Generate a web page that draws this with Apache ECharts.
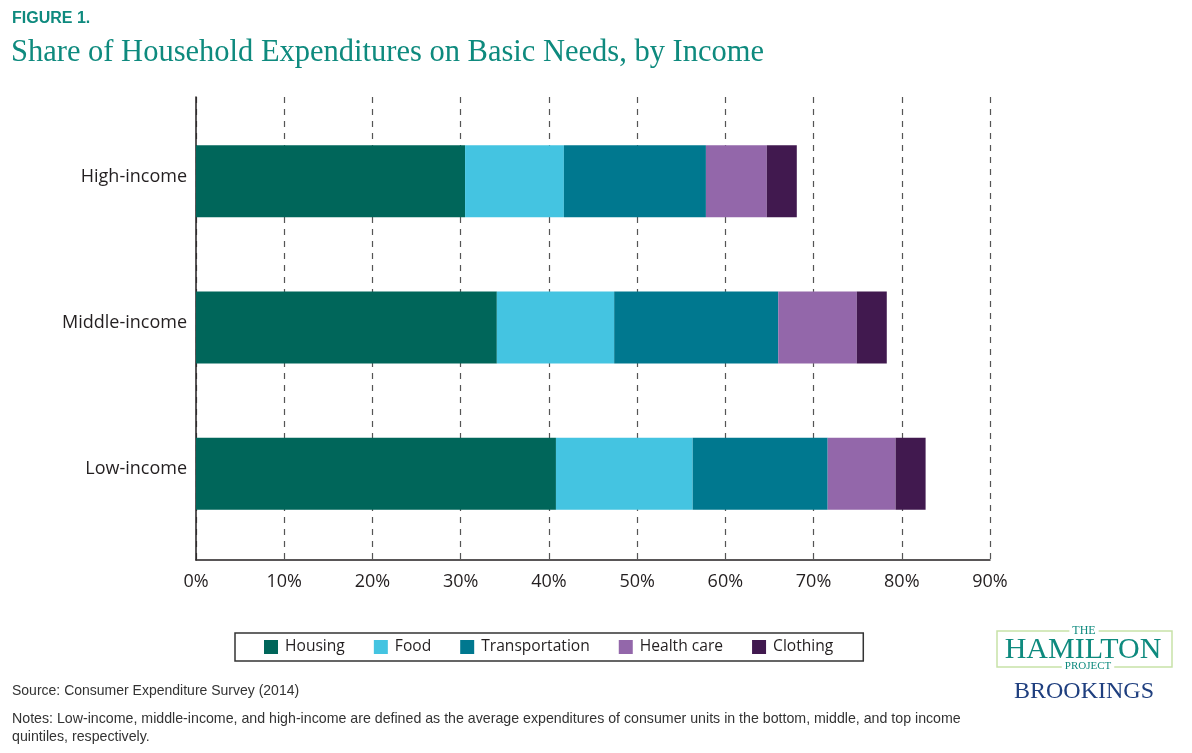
<!DOCTYPE html>
<html>
<head>
<meta charset="utf-8">
<script src="https://cdn.jsdelivr.net/npm/echarts@6/dist/echarts.min.js"></script>
<style>
html,body{margin:0;padding:0;background:#fff;}
#chart{width:1192px;height:753px;}
</style>
</head>
<body>
<div id="chart"></div>
<script>
var categories = ['Low-income', 'Middle-income', 'High-income'];
var seriesNames = ['Housing', 'Food', 'Transportation', 'Health care', 'Clothing'];
var housing = [40.8, 34.1, 30.5];
var food = [15.5, 13.3, 11.2];
var transportation = [15.3, 18.6, 16.1];
var healthCare = [7.7, 8.9, 6.9];
var clothing = [3.4, 3.4, 3.4];
var colors = ['#00665A', '#44C4E1', '#00788F', '#9367AA', '#41194F'];
var xTicks = [0, 10, 20, 30, 40, 50, 60, 70, 80, 90];

var values = [housing, food, transportation, healthCare, clothing];
var chart = echarts.init(document.getElementById('chart'), null, {renderer: 'canvas'});
var labelFont = '"Open Sans", "Noto Sans", sans-serif';

var series = seriesNames.map(function (name, i) {
  return {
    name: name,
    type: 'bar',
    stack: 'total',
    xAxisIndex: 1,
    yAxisIndex: 1,
    barWidth: 72,
    itemStyle: {color: colors[i]},
    data: values[i]
  };
});

chart.setOption({
  animation: false,
  color: colors,
  grid: [
    {left: 196, right: 202, top: 97, bottom: 193},
    {left: 196, right: 202, top: 108, bottom: 206}
  ],
  xAxis: [
    {
      type: 'value', gridIndex: 0, min: xTicks[0], max: xTicks[xTicks.length - 1], interval: 10,
      axisLine: {show: true, lineStyle: {color: '#231F20', width: 1.5}},
      axisTick: {show: false},
      axisLabel: {formatter: '{value}%', fontSize: 18, color: '#231F20', fontFamily: labelFont, margin: 13},
      splitLine: {show: true, lineStyle: {color: '#555', type: [6, 6], width: 1.2}}
    },
    {
      type: 'value', gridIndex: 1, min: xTicks[0], max: xTicks[xTicks.length - 1], show: false,
      splitLine: {show: false}
    }
  ],
  yAxis: [
    {
      type: 'category', gridIndex: 0, data: ['', '', ''],
      axisLine: {show: true, lineStyle: {color: '#231F20', width: 1.5}},
      axisTick: {show: false}, axisLabel: {show: false}
    },
    {
      type: 'category', gridIndex: 1, data: categories,
      axisLine: {show: false}, axisTick: {show: false},
      axisLabel: {
        margin: 9,
        formatter: function (v) { return '{a|' + v + '}'; },
        rich: {a: {fontSize: 18, color: '#231F20', fontFamily: labelFont, padding: [0, 0, 9, 0]}}
      }
    }
  ],
  legend: {
    data: seriesNames,
    left: 235, top: 633,
    padding: [6, 30, 6, 29],
    itemWidth: 14, itemHeight: 14, itemGap: 29,
    icon: 'rect',
    borderColor: '#333', borderWidth: 1.5,
    textStyle: {fontSize: 15.6, color: '#231F20', fontFamily: labelFont, padding: [0, 0, 0, 2]}
  },
  graphic: [
    {type: 'text', left: 12, top: 11, style: {text: 'FIGURE 1.', font: 'bold 16px "Liberation Sans", Arial, sans-serif', fill: '#0E8A7E'}},
    {type: 'text', left: 11, top: 37, style: {text: 'Share of Household Expenditures on Basic Needs, by Income', font: '30.5px "Liberation Serif", "Times New Roman", serif', fill: '#0E8A7E'}},
    {type: 'text', left: 12, top: 684, style: {text: 'Source: Consumer Expenditure Survey (2014)', font: '14px "Liberation Sans", Arial, sans-serif', fill: '#333'}},
    {type: 'text', left: 12, top: 712, style: {text: 'Notes: Low-income, middle-income, and high-income are defined as the average expenditures of consumer units in the bottom, middle, and top income', font: '14.2px "Liberation Sans", Arial, sans-serif', fill: '#333'}},
    {type: 'text', left: 12, top: 730, style: {text: 'quintiles, respectively.', font: '14.2px "Liberation Sans", Arial, sans-serif', fill: '#333'}},
    {type: 'rect', shape: {x: 997, y: 631, width: 175, height: 36}, style: {fill: 'none', stroke: '#C8E2A8', lineWidth: 1.5}},
    {type: 'text', x: 1084, y: 625, style: {text: 'THE', font: '12px "Liberation Serif", serif', fill: '#0E8A7E', align: 'center', backgroundColor: '#fff', padding: [0, 3]}},
    {type: 'text', x: 1083, y: 635, style: {text: 'HAMILTON', font: '30px "Liberation Serif", serif', fill: '#0E8A7E', align: 'center'}},
    {type: 'text', x: 1088, y: 661, style: {text: 'PROJECT', font: '11px "Liberation Serif", serif', fill: '#0E8A7E', align: 'center', backgroundColor: '#fff', padding: [0, 3]}},
    {type: 'text', x: 1084, y: 680, style: {text: 'BROOKINGS', font: '24px "Liberation Serif", serif', fill: '#1F3F7F', align: 'center'}}
  ],
  series: series
});
</script>
</body>
</html>
